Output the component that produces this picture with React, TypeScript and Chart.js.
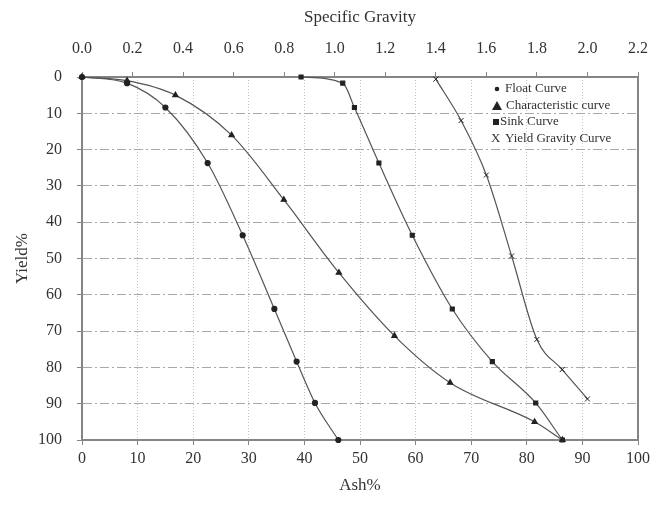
import React, { useEffect, useRef } from 'react';
import { Chart, registerables } from 'chart.js';

Chart.register(...registerables);

// ---- Data ----
const floatAsh = [0, 8.1, 15.0, 22.6, 28.9, 34.6, 38.6, 41.9, 46.1];
const floatYield = [0, 1.7, 8.4, 23.7, 43.6, 63.9, 78.4, 89.8, 100];

const charAsh = [0, 8.1, 16.8, 26.9, 36.3, 46.2, 56.2, 66.2, 81.4, 86.4];
const charYield = [0, 1.0, 5.0, 16.0, 33.8, 53.9, 71.3, 84.2, 95.0, 100];

const sinkAsh = [39.4, 46.9, 49.0, 53.4, 59.4, 66.6, 73.8, 81.6, 86.4];
const sinkYield = [0, 1.7, 8.4, 23.7, 43.6, 63.9, 78.4, 89.8, 100];

const gravitySG = [1.4, 1.5, 1.6, 1.7, 1.8, 1.9, 2.0];
const gravityYield = [0.6, 12.0, 27.0, 49.3, 72.3, 80.6, 88.7];

const seriesLabels = ['Float Curve', 'Characteristic curve', 'Sink Curve', 'Yield Gravity Curve'];
const axisTitles = { ash: 'Ash%', yield: 'Yield%', sg: 'Specific Gravity' };

const SERIF = "'Liberation Serif', 'Times New Roman', serif";
const TEXT = '#333333';
const AXIS = '#858585';
const LINE = '#555555';
const MARK = '#222222';

const toPoints = (xs: number[], ys: number[]) => xs.map((x, i) => ({ x, y: ys[i] }));

const legendPlugin = {
  id: 'insideLegend',
  afterDraw(chart: any) {
    const ctx = chart.ctx as CanvasRenderingContext2D;
    ctx.save();
    ctx.font = `13px ${SERIF}`;
    ctx.textBaseline = 'middle';
    ctx.textAlign = 'left';
    const rows = [89, 106, 122, 139];
    ctx.fillStyle = MARK;
    ctx.beginPath();
    ctx.arc(497, rows[0], 2.3, 0, Math.PI * 2);
    ctx.fill();
    ctx.beginPath();
    ctx.moveTo(497, rows[1] - 5);
    ctx.lineTo(502, rows[1] + 4);
    ctx.lineTo(492, rows[1] + 4);
    ctx.closePath();
    ctx.fill();
    ctx.fillRect(493, rows[2] - 3, 6, 6);
    ctx.fillStyle = TEXT;
    ctx.fillText(seriesLabels[0], 505, rows[0]);
    ctx.fillText(seriesLabels[1], 506, rows[1]);
    ctx.fillText(seriesLabels[2], 500, rows[2]);
    ctx.fillText('X', 491, rows[3]);
    ctx.fillText(seriesLabels[3], 505, rows[3]);
    ctx.restore();
  },
};

const whiteBg = {
  id: 'whiteBg',
  beforeDraw(chart: any) {
    const ctx = chart.ctx;
    ctx.save();
    ctx.fillStyle = '#ffffff';
    ctx.fillRect(0, 0, chart.width, chart.height);
    ctx.restore();
  },
};

export default function App() {
  const ref = useRef<HTMLCanvasElement | null>(null);

  useEffect(() => {
    if (!ref.current) return;
    const tickFont = { family: SERIF, size: 16 };
    const titleFont = { family: SERIF, size: 17 };
    const common = {
      borderColor: LINE,
      borderWidth: 1.2,
      pointBackgroundColor: MARK,
      pointBorderColor: MARK,
      cubicInterpolationMode: 'monotone' as const,
      clip: false as const,
      showLine: true,
      yAxisID: 'y',
    };
    const chart = new Chart(ref.current, {
      type: 'scatter',
      data: {
        datasets: [
          { ...common, label: seriesLabels[0], data: toPoints(floatAsh, floatYield), xAxisID: 'x', pointStyle: 'circle', pointRadius: 2.5 },
          { ...common, label: seriesLabels[1], data: toPoints(charAsh, charYield), xAxisID: 'x', pointStyle: 'triangle', pointRadius: 3 },
          { ...common, label: seriesLabels[2], data: toPoints(sinkAsh, sinkYield), xAxisID: 'x', pointStyle: 'rect', pointRadius: 2.8 },
          { ...common, label: seriesLabels[3], data: toPoints(gravitySG, gravityYield), xAxisID: 'x2', pointStyle: 'crossRot', pointRadius: 3.5, pointBorderWidth: 1 },
        ],
      },
      options: {
        responsive: false,
        animation: false,
        layout: { padding: 0 },
        plugins: { legend: { display: false }, tooltip: { enabled: false } },
        scales: {
          x: {
            type: 'linear',
            position: 'bottom',
            min: 0,
            max: 100,
            ticks: { stepSize: 10, color: TEXT, font: tickFont, padding: 4, maxRotation: 0 },
            grid: { color: '#c4c4c4', lineWidth: 1, tickColor: AXIS, tickLength: 5 },
            border: { color: AXIS, width: 2, dash: [1, 2] },
            title: { display: true, text: axisTitles.ash, color: TEXT, font: titleFont, padding: { top: 0, bottom: 10 } },
            afterFit: (s: any) => { s.height = 66; },
          },
          x2: {
            type: 'linear',
            position: 'top',
            min: 0,
            max: 2.2,
            ticks: { stepSize: 0.2, color: TEXT, font: tickFont, padding: 14, maxRotation: 0, callback: (v: any) => Number(v).toFixed(1) },
            grid: { drawOnChartArea: false, tickColor: AXIS, tickLength: 5 },
            border: { color: AXIS, width: 2 },
            title: { display: true, text: axisTitles.sg, color: TEXT, font: titleFont, padding: { top: 7, bottom: 0 } },
            afterFit: (s: any) => { s.height = 77; },
          },
          y: {
            type: 'linear',
            position: 'left',
            reverse: true,
            min: 0,
            max: 100,
            ticks: { stepSize: 10, color: TEXT, font: tickFont, padding: 15 },
            grid: { color: '#a8a8a8', lineWidth: 1, tickColor: AXIS, tickLength: 5 },
            border: { color: AXIS, width: 2, dash: [9, 3, 2, 3] },
            title: { display: true, text: axisTitles.yield, color: TEXT, font: titleFont, padding: { top: 12, bottom: 0 } },
            afterFit: (s: any) => { s.width = 82; },
          },
          y2: {
            type: 'linear',
            position: 'right',
            min: 0,
            max: 100,
            ticks: { display: false },
            grid: { drawOnChartArea: false, drawTicks: false },
            border: { color: AXIS, width: 2 },
            afterFit: (s: any) => { s.width = 19; },
          },
        },
      } as any,
      plugins: [whiteBg, legendPlugin],
    });
    return () => chart.destroy();
  }, []);

  return (
    <div style={{ position: 'absolute', left: 0, top: 0, width: 662, height: 506, background: '#fff' }}>
      <canvas ref={ref} width={662} height={506} style={{ display: 'block' }} />
    </div>
  );
}
